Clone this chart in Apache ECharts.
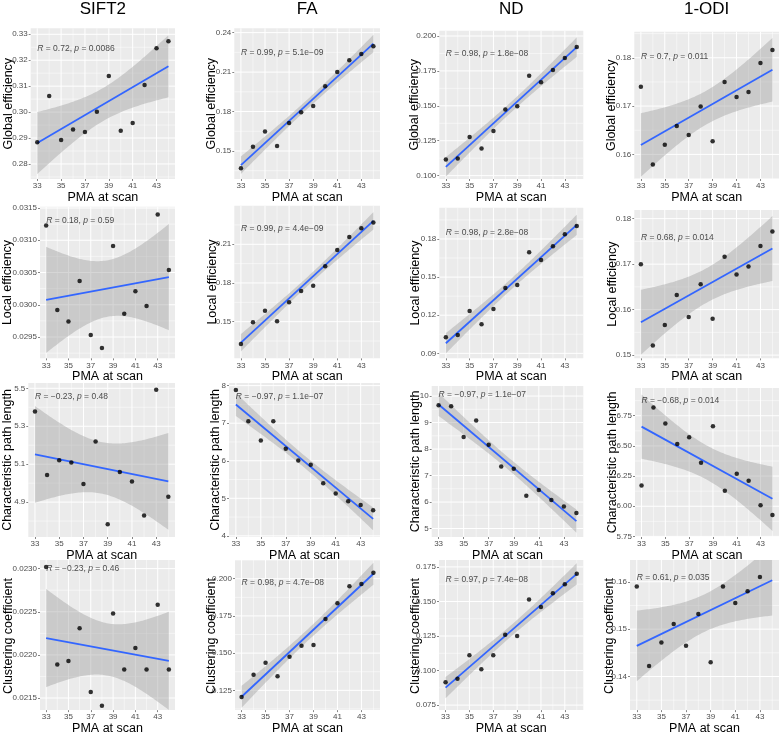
<!DOCTYPE html>
<html><head><meta charset="utf-8">
<script src="https://cdn.jsdelivr.net/npm/echarts@6/dist/echarts.min.js"></script>
<style>html,body{margin:0;padding:0;background:#fff}#c{width:780px;height:736px}</style>
</head><body><div id="c"></div>
<script>
// ---------- data ----------
const pma = [33,34,35,36,37,38,39,40,41,42,43,44];
const columnTitles = ['SIFT2','FA','ND','1-ODI'];
const metricNames = ['Global efficiency','Local efficiency','Characteristic path length','Clustering coefficient'];
const xTicks = [33,35,37,39,41,43];

const siftGlobal = [0.2884,0.3062,0.2892,0.2933,0.2923,0.3001,0.3139,0.2928,0.2958,0.3104,0.3246,0.3273];
const faGlobal   = [0.1368,0.1533,0.1649,0.1538,0.1713,0.1794,0.1842,0.1992,0.2101,0.2190,0.2238,0.2296];
const ndGlobal   = [0.1115,0.1122,0.1277,0.1194,0.1320,0.1473,0.1497,0.1716,0.1668,0.1757,0.1843,0.1921];
const odiGlobal  = [0.1740,0.1579,0.1620,0.1659,0.1640,0.1699,0.1627,0.1750,0.1719,0.1729,0.1789,0.1816];

const siftLocal = [0.03123,0.02992,0.02974,0.03037,0.02953,0.02933,0.03091,0.02986,0.03021,0.02998,0.03140,0.03054];
const faLocal   = [0.1327,0.1495,0.1585,0.1503,0.1650,0.1738,0.1779,0.1929,0.2056,0.2157,0.2224,0.2268];
const ndLocal   = [0.1026,0.1044,0.1233,0.1128,0.1249,0.1414,0.1438,0.1695,0.1635,0.1742,0.1837,0.1902];
const odiLocal  = [0.1700,0.1521,0.1566,0.1632,0.1584,0.1656,0.1580,0.1716,0.1677,0.1695,0.1740,0.1772];

const siftPath = [5.378,5.043,5.121,5.109,4.996,5.219,4.783,5.059,5.008,4.829,5.493,4.928];
const faPath   = [7.884,7.054,6.536,7.054,6.321,6.009,5.893,5.402,5.125,4.920,4.821,4.679];
const ndPath   = [9.658,9.620,8.456,9.076,8.165,7.342,7.253,6.241,6.456,6.076,5.835,5.582];
const odiPath  = [6.171,6.818,6.685,6.516,6.571,6.361,6.663,6.128,6.269,6.212,6.008,5.927];

const siftClust = [0.02302,0.02189,0.02193,0.02231,0.02157,0.02141,0.02248,0.02183,0.02208,0.02183,0.02258,0.02183];
const faClust   = [0.1205,0.1355,0.1435,0.1345,0.1475,0.1550,0.1555,0.1730,0.1835,0.1950,0.1965,0.2040];
const ndClust   = [0.0915,0.0940,0.1110,0.1010,0.1110,0.1260,0.1250,0.1515,0.1460,0.1560,0.1625,0.1700];
const odiClust  = [0.1590,0.1422,0.1472,0.1511,0.1465,0.1532,0.1430,0.1590,0.1555,0.1580,0.1610,0.1650];

const rLabels = [['0.72','0.99','0.98','0.7'],['0.18','0.99','0.98','0.68'],['\u22120.23','\u22120.97','\u22120.97','\u22120.68'],['\u22120.23','0.98','0.97','0.61']];
const pLabels = [['0.0086','5.1e\u221209','1.8e\u221208','0.011'],['0.59','4.4e\u221209','2.8e\u221208','0.014'],['0.48','1.1e\u221207','1.1e\u221207','0.014'],['0.46','4.7e\u221208','7.4e\u221208','0.035']];

const yTickValues = [
  [[0.28,0.29,0.30,0.31,0.32,0.33],[0.15,0.18,0.21,0.24],[0.100,0.125,0.150,0.175,0.200],[0.16,0.17,0.18]],
  [[0.0295,0.0300,0.0305,0.0310,0.0315],[0.15,0.18,0.21],[0.09,0.12,0.15,0.18],[0.15,0.16,0.17,0.18]],
  [[4.9,5.1,5.3,5.5],[4,5,6,7,8],[5,6,7,8,9,10],[5.75,6.00,6.25,6.50,6.75]],
  [[0.0215,0.0220,0.0225,0.0230],[0.125,0.150,0.175,0.200],[0.075,0.100,0.125,0.150,0.175],[0.14,0.15,0.16]]
];
const yDecimals = [[2,2,3,2],[4,2,2,2],[1,0,0,2],[4,3,3,2]];
const yMin = [[0.2742,0.1287,0.0976,0.1549],[0.02917,0.1216,0.0861,0.1493],[4.716,3.97,4.68,5.745],[0.02136,0.1117,0.0714,0.1329]];
const yMax = [[0.3323,0.2433,0.2038,0.1854],[0.03152,0.2399,0.2046,0.1819],[5.528,8.07,10.38,6.98],[0.0231,0.2126,0.18,0.1646]];
const annY = [[0.3246,0.2250,0.1876,0.1802],[0.03130,0.2224,0.1850,0.1759],[5.456,7.705,10.04,6.875],[0.0230,0.1973,0.1657,0.1608]];

// ---------- layout ----------
const gridLeft = [[30.7,234.3,439.3,634.3],[40,234.3,439.3,634.3],[28.3,229,431.7,635],[40,235,439,630]];
const colRight = [175,380,583.3,779];
const gridTop = [[28.3,28.3,30.7,31.7],[206.7,205.7,207.7,210],[383,383,386,388],[560,560,560,560]];
const rowBottom = [179,358.3,537,712];
const yTitleX = [[8.5,212,415,612],[8,213,416,613],[8,216,416,612.5],[8.5,212,416,610]];

const valueSets = [
  [siftGlobal, faGlobal, ndGlobal, odiGlobal],
  [siftLocal, faLocal, ndLocal, odiLocal],
  [siftPath, faPath, ndPath, odiPath],
  [siftClust, faClust, ndClust, odiClust]
];

const FONT = '"Liberation Sans", Arial, Helvetica, sans-serif';
const X_MIN = 32.45, X_MAX = 44.55;
const T975 = 2.228139;

function fit(xs, ys){
  const n = xs.length;
  const xm = xs.reduce((a,b)=>a+b,0)/n, ym = ys.reduce((a,b)=>a+b,0)/n;
  let sxx=0, sxy=0;
  for(let i=0;i<n;i++){ sxx+=(xs[i]-xm)**2; sxy+=(xs[i]-xm)*(ys[i]-ym); }
  const b = sxy/sxx, a = ym - b*xm;
  let sse=0; for(let i=0;i<n;i++){ sse += (ys[i]-a-b*xs[i])**2; }
  const s = Math.sqrt(sse/(n-2));
  return {a,b,s,n,xm,sxx};
}

const grids=[], xAxes=[], yAxes=[], series=[], graphics=[];

for(let r=0;r<4;r++){
  for(let c=0;c<4;c++){
    const idx = r*4+c;
    const left = gridLeft[r][c], top = gridTop[r][c], right = colRight[c], bottom = rowBottom[r];
    const y0 = yMin[r][c], y1 = yMax[r][c];
    grids.push({left:left, top:top, width:right-left, height:bottom-top, show:true, backgroundColor:'#EBEBEB', borderWidth:0});
    xAxes.push({
      type:'value', gridIndex:idx, min:X_MIN, max:X_MAX,
      splitLine:{show:false}, axisLine:{show:false},
      axisTick:{show:true, customValues:xTicks, length:2, lineStyle:{color:'#333', width:0.6}},
      axisLabel:{customValues:xTicks, fontSize:8, color:'#4D4D4D', margin:3, fontFamily:FONT},
      name:'PMA at scan', nameLocation:'middle', nameGap:10,
      nameTextStyle:{fontSize:12.5, color:'#000', fontFamily:FONT}
    });
    const yt = yTickValues[r][c], dec = yDecimals[r][c];
    yAxes.push({
      type:'value', gridIndex:idx, min:y0, max:y1,
      splitLine:{show:false}, axisLine:{show:false},
      axisTick:{show:true, customValues:yt, length:2, lineStyle:{color:'#333', width:0.6}},
      axisLabel:{customValues:yt, fontSize:8, color:'#4D4D4D', margin:3, fontFamily:FONT,
                 formatter:(v)=>Number(v).toFixed(dec)}
    });

    // grid lines (ggplot style) as broken line series spanning the axis extent
    const major = [], minor = [];
    const gap = ['-','-'];
    xTicks.forEach(v=>{ major.push([v,y0],[v,y1],gap); });
    for(let v=32; v<=45; v+=2){ if(v>X_MIN && v<X_MAX) minor.push([v,y0],[v,y1],gap); }
    const step = yt[1]-yt[0];
    yt.forEach(v=>{ major.push([X_MIN,v],[X_MAX,v],gap); });
    for(let k=-3;k<yt.length+3;k++){
      const v = yt[0] - step/2 + k*step;
      if(v>y0 && v<y1) minor.push([X_MIN,v],[X_MAX,v],gap);
    }
    series.push({type:'line', xAxisIndex:idx, yAxisIndex:idx, data:minor, symbol:'none', connectNulls:false,
      lineStyle:{color:'#FFFFFF', width:0.5}, silent:true, z:1});
    series.push({type:'line', xAxisIndex:idx, yAxisIndex:idx, data:major, symbol:'none', connectNulls:false,
      lineStyle:{color:'#FFFFFF', width:1}, silent:true, z:1});

    const ys = valueSets[r][c];
    const pts = pma.map((x,i)=>[x, ys[i]]);

    // regression + 95% CI
    const f = fit(pma, ys);
    const band = [];
    const N = 80;
    for(let k=0;k<N;k++){
      const x = pma[0] + (pma[pma.length-1]-pma[0])*k/(N-1);
      const yh = f.a + f.b*x;
      const se = f.s*Math.sqrt(1/f.n + (x-f.xm)**2/f.sxx);
      band.push([x, yh - T975*se, yh + T975*se]);
    }
    series.push({type:'custom', xAxisIndex:idx, yAxisIndex:idx, data:band, silent:true, z:2, clip:true,
      encode:{x:0, y:[1,2]},
      renderItem:(params, api)=>{
        if(params.dataIndex !== 0) return null;
        const lower = band.map(p=>api.coord([p[0],p[1]]));
        const upper = band.slice().reverse().map(p=>api.coord([p[0],p[2]]));
        return {type:'polygon', shape:{points:lower.concat(upper)}, style:{fill:'rgba(153,153,153,0.4)', stroke:null}};
      }});
    const x0 = pma[0], x1 = pma[pma.length-1];
    series.push({type:'line', xAxisIndex:idx, yAxisIndex:idx, data:[[x0, f.a+f.b*x0],[x1, f.a+f.b*x1]],
      symbol:'none', lineStyle:{color:'#3366FF', width:1.8}, silent:true, z:3});
    series.push({type:'scatter', xAxisIndex:idx, yAxisIndex:idx, data:pts, symbolSize:4.5,
      itemStyle:{color:'#000'}, silent:true, z:4});
    // annotation
    series.push({type:'scatter', xAxisIndex:idx, yAxisIndex:idx, data:[[pma[0], annY[r][c]]], symbolSize:0, silent:true, z:5,
      label:{show:true, position:'right', distance:0, fontSize:8.5, color:'#1A1A1A', fontFamily:FONT,
        formatter:'{i|R} = ' + rLabels[r][c] + ', {i|p} = ' + pLabels[r][c],
        rich:{i:{fontStyle:'italic', fontSize:8.5, color:'#1A1A1A', fontFamily:FONT}}}});

    // y-axis title
    graphics.push({type:'text', x:yTitleX[r][c], y:(top+bottom)/2, rotation:Math.PI/2, silent:true,
      style:{text:metricNames[r], fontSize:12.5, fontFamily:FONT, fill:'#000', align:'center', verticalAlign:'middle'}});
  }
}
for(let c=0;c<4;c++){
  graphics.push({type:'text', x:(gridLeft[0][c]+colRight[c])/2, y:9, silent:true,
    style:{text:columnTitles[c], fontSize:17, fontFamily:FONT, fill:'#000', align:'center', verticalAlign:'middle'}});
}

const chart = echarts.init(document.getElementById('c'), null, {renderer:'canvas'});
chart.setOption({
  animation:false,
  backgroundColor:'#FFFFFF',
  grid:grids, xAxis:xAxes, yAxis:yAxes, series:series, graphic:graphics
});
</script>
</body></html>
